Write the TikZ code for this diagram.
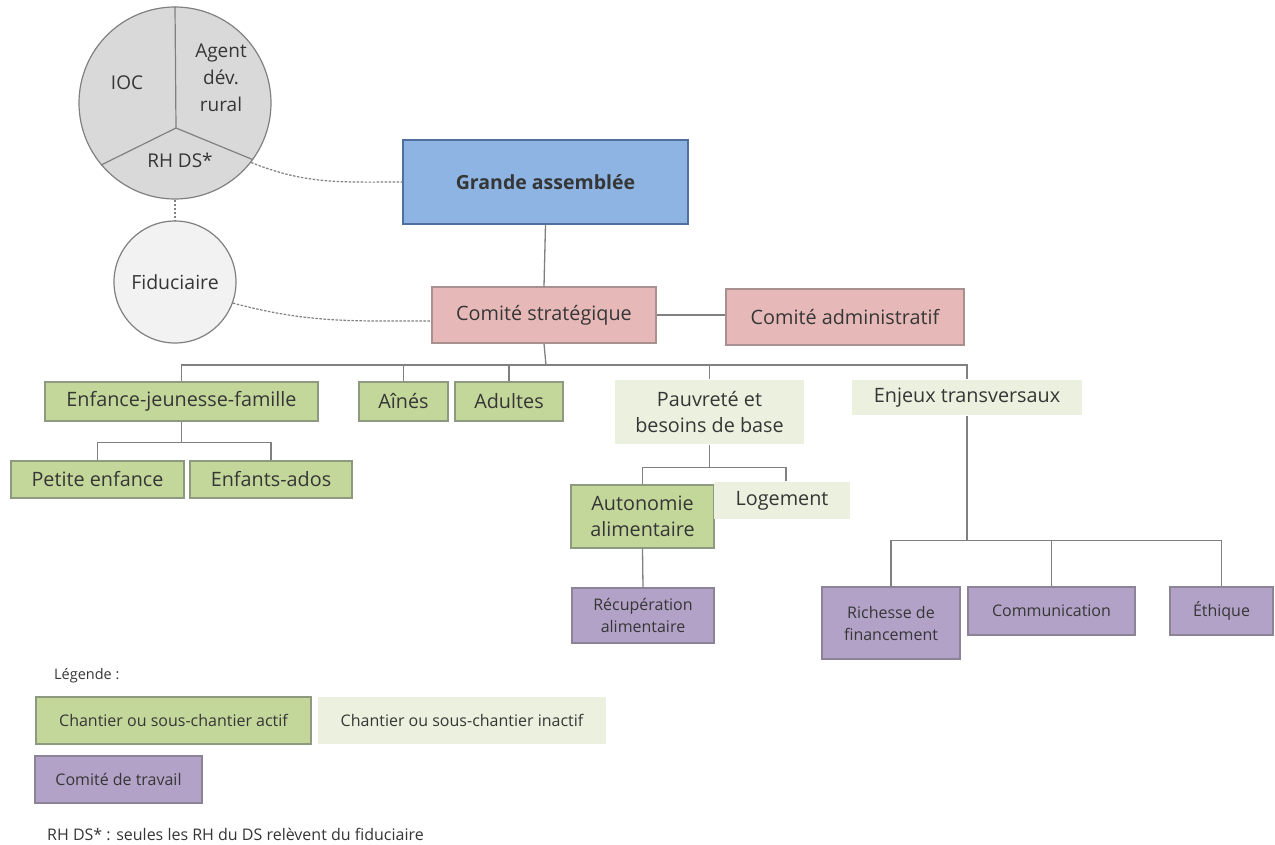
\documentclass[tikz,border=0pt]{standalone}
\usepackage{fontspec}
\setmainfont{Open Sans}
\usetikzlibrary{positioning}

\definecolor{txt}{HTML}{363636}
\definecolor{lien}{HTML}{808080}
\definecolor{bleu}{HTML}{8DB4E2}
\definecolor{bleubord}{HTML}{4F6F9C}
\definecolor{rose}{HTML}{E6B9B8}
\definecolor{rosebord}{HTML}{A89090}
\definecolor{vert}{HTML}{C4D79B}
\definecolor{vertbord}{HTML}{8E9A80}
\definecolor{vertpale}{HTML}{EBF1DE}
\definecolor{mauve}{HTML}{B3A2C7}
\definecolor{mauvebord}{HTML}{8C8496}
\definecolor{gris}{HTML}{D9D9D9}
\definecolor{grispale}{HTML}{F2F2F2}

\begin{document}
\begin{tikzpicture}[
      x=1pt, y=-1pt,
      every node/.style={text=txt, inner sep=0pt, align=center},
      box/.style={draw, line width=1.2pt, font=\fontsize{19.8}{26}\selectfont},
      grande/.style={box, fill=bleu, draw=bleubord, font=\fontsize{19.5}{22}\selectfont\bfseries},
      comite/.style={box, fill=rose, draw=rosebord},
      actif/.style={box, fill=vert, draw=vertbord},
      inactif/.style={box, fill=vertpale, draw=none},
      travail/.style={box, fill=mauve, draw=mauvebord, font=\fontsize{16}{22}\selectfont},
      legtxt/.style={font=\fontsize{16}{18}\selectfont},
      lien/.style={draw=lien, line width=1.3pt},
      pointille/.style={draw=lien, line width=1.2pt, dash pattern=on 2.5pt off 1.5pt},
      taille/.style 2 args={minimum width=#1, minimum height=#2}
    ]
    \useasboundingbox[fill=white] (0,0) rectangle (1275,845);

    % cercles de gauche
    \node[circle, draw=lien, line width=1.2pt, fill=gris, minimum size=192pt] (cercle) at (175,103) {};
    \coordinate (centre) at (176,128);
    \draw[lien, line width=1.2pt] (centre) -- (cercle.north);
    \draw[lien, line width=1.2pt] (centre) -- (cercle.220);
    \draw[lien, line width=1.2pt] (centre) -- (cercle.-36);
    \node[font=\fontsize{19}{27}\selectfont] (ioc) at (127,83) {IOC};
    \node[font=\fontsize{19}{27}\selectfont] (agent) at (221,78) {Agent\\dév.\\rural};
    \node[font=\fontsize{19}{27}\selectfont] (rhds) at (180,160) {RH DS*};
    \node[circle, draw=lien, line width=1.2pt, fill=grispale, minimum size=122pt,
          font=\fontsize{19.5}{22}\selectfont] (fid) at (175,282) {Fiduciaire};

    % instances
    \node[grande, taille={285pt}{84pt}] (ga) at (545.5,182) {Grande assemblée};
    \node[comite, taille={224pt}{56pt}] (cs) at (544,315) {Comité stratégique};
    \node[comite, taille={238pt}{56pt}] (ca) at (845,317) {Comité administratif};

    % chantiers
    \node[actif, taille={273pt}{39pt}] (ejf) at (181.5,401.5) {Enfance-jeunesse-famille};
    \node[actif, taille={89pt}{39pt}] (aines) at (403.5,401.5) {Aînés};
    \node[actif, taille={108pt}{39pt}] (adultes) at (509,401.5) {Adultes};
    \node[inactif, taille={189pt}{64pt}] (pauv) at (709.5,412) {Pauvreté et\\besoins de base};
    \node[inactif, taille={230pt}{35pt}] (enj) at (967,397.5) {Enjeux transversaux};

    % sous-chantiers
    \node[actif, taille={173pt}{37pt}] (pe) at (97.5,479.5) {Petite enfance};
    \node[actif, taille={162pt}{37pt}] (ea) at (271,479.5) {Enfants-ados};
    \node[actif, taille={143pt}{63pt}] (auto) at (642.5,516.5) {Autonomie\\alimentaire};
    \node[inactif, taille={136pt}{37pt}] (loge) at (782,500.5) {Logement};

    % comites de travail
    \node[travail, taille={142pt}{55pt}] (recup) at (643,615.5) {Récupération\\alimentaire};
    \node[travail, taille={138pt}{72pt}] (rich) at (891,623) {Richesse de\\financement};
    \node[travail, taille={167pt}{48pt}] (comm) at (1051.5,611) {Communication};
    \node[travail, taille={103pt}{48pt}] (eth) at (1221.5,611) {Éthique};

    % liens
    \draw[pointille] (cercle.south) -- (fid.north);
    \draw[pointille] (cercle.-38) to[out=-22, in=180] (ga.west);
    \draw[pointille] (fid.-20) to[out=-15, in=180] ([yshift=-6pt]cs.west);
    \draw[lien] (ga.south) -- (cs.north);
    \draw[lien] (cs.east) -- (ca.west |- cs.east);

    \coordinate (bus) at (546,365);
    \draw[lien] (cs.south) -- (bus);
    \draw[lien] (ejf.north) |- (bus) -| (enj.north);
    \foreach \n in {aines, adultes, pauv}
        \draw[lien] (\n.north) -- (\n.north |- bus);

    \draw[lien] (ejf.south) -- ++(0,21) coordinate (ejfbus);
    \draw[lien] (pe.north) |- (ejfbus) -| (ea.north);

    \draw[lien] (pauv.south) -- ++(0,23) coordinate (pauvbus);
    \draw[lien] (auto.north) |- (pauvbus) -| ([xshift=4pt]loge.north);
    \draw[lien] (auto.south) -- (recup.north);

    \draw[lien] (enj.south) -- ++(0,125) coordinate (enjbus);
    \draw[lien] (rich.north) |- (enjbus) -| (eth.north);
    \draw[lien] (comm.north) -- (comm.north |- enjbus);

    % legende
    \node[font=\fontsize{14.5}{18}\selectfont, anchor=west] (legende) at (54,676) {Légende :};
    \node[actif, legtxt, taille={275pt}{47pt}] (leg1) at (173.5,720.5) {Chantier ou sous-chantier actif};
    \node[inactif, legtxt, taille={288pt}{47pt}] (leg2) at (462,720.5) {Chantier ou sous-chantier inactif};
    \node[travail, legtxt, taille={167pt}{47pt}] (leg3) at (118.5,779.5) {Comité de travail};
    \node[legtxt, anchor=west] (note) at (47,834) {RH DS* : seules les RH du DS relèvent du fiduciaire};
\end{tikzpicture}
\end{document}
